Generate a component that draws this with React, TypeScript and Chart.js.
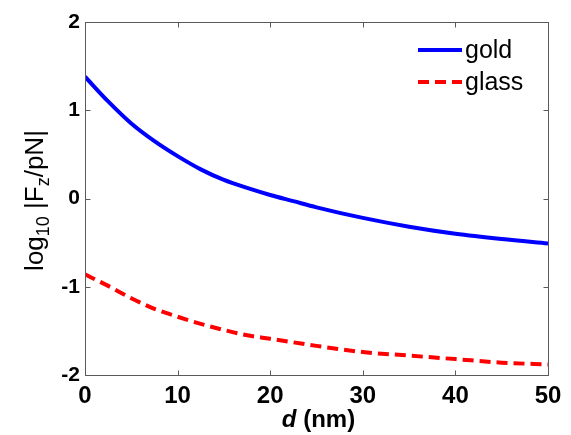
import React, { useEffect, useRef } from "react";
import { Chart, registerables } from "chart.js";

Chart.register(...registerables);

const distances = [0, 2.5, 5, 7.5, 10, 12.5, 15, 17.5, 20, 22.5, 25, 30, 35, 40, 45, 50];
const goldValues = [1.38, 1.10, 0.85, 0.65, 0.48, 0.33, 0.21, 0.12, 0.04, -0.03, -0.10, -0.22, -0.32, -0.40, -0.46, -0.51];
const glassValues = [-0.86, -0.99, -1.13, -1.25, -1.34, -1.42, -1.49, -1.55, -1.59, -1.63, -1.67, -1.74, -1.78, -1.82, -1.86, -1.88];
const seriesLabels = ["gold", "glass"];
const xTicks = [0, 10, 20, 30, 40, 50];
const yTicks = [-2, -1, 0, 1, 2];

const FONT = "'Liberation Sans', Arial, sans-serif";
const AXIS_COLOR = "#5a5a5a";

const decorPlugin = {
  id: "decor",
  afterDraw(chart: any) {
    const { ctx, chartArea } = chart;
    const xs = chart.scales.x;
    const ys = chart.scales.y;
    const l = Math.round(chartArea.left) + 0.5;
    const r = Math.round(chartArea.right) + 0.5;
    const t = Math.round(chartArea.top) + 0.5;
    const b = Math.round(chartArea.bottom) + 0.5;
    ctx.save();
    ctx.strokeStyle = AXIS_COLOR;
    ctx.lineWidth = 1;
    ctx.strokeRect(l, t, r - l, b - t);
    const tl = 5;
    ctx.beginPath();
    xTicks.forEach((v) => {
      const px = Math.round(xs.getPixelForValue(v)) + 0.5;
      ctx.moveTo(px, b);
      ctx.lineTo(px, b - tl);
      ctx.moveTo(px, t);
      ctx.lineTo(px, t + tl);
    });
    yTicks.forEach((v) => {
      const py = Math.round(ys.getPixelForValue(v)) + 0.5;
      ctx.moveTo(l, py);
      ctx.lineTo(l + tl, py);
      ctx.moveTo(r, py);
      ctx.lineTo(r - tl, py);
    });
    ctx.stroke();

    // legend
    const ds = chart.data.datasets;
    const legendY = [50, 82];
    ds.forEach((d: any, i: number) => {
      ctx.beginPath();
      ctx.strokeStyle = d.borderColor;
      ctx.lineWidth = 4;
      ctx.setLineDash(d.borderDash || []);
      ctx.moveTo(418, legendY[i]);
      ctx.lineTo(462, legendY[i]);
      ctx.stroke();
      ctx.setLineDash([]);
      ctx.fillStyle = "#000";
      ctx.font = `25px ${FONT}`;
      ctx.textBaseline = "middle";
      ctx.textAlign = "left";
      ctx.fillText(d.label, 465, legendY[i] + 1);
    });

    // x title
    ctx.fillStyle = "#000";
    ctx.textBaseline = "alphabetic";
    ctx.textAlign = "left";
    const fItal = `italic bold 24px ${FONT}`;
    const fBold = `bold 24px ${FONT}`;
    ctx.font = fItal;
    const w1 = ctx.measureText("d").width;
    ctx.font = fBold;
    const w2 = ctx.measureText(" (nm)").width;
    const cx = (chartArea.left + chartArea.right) / 2 + 2;
    const x0 = cx - (w1 + w2) / 2;
    ctx.font = fItal;
    ctx.fillText("d", x0, 427);
    ctx.font = fBold;
    ctx.fillText(" (nm)", x0 + w1, 427);

    // y title
    const main = `26px ${FONT}`;
    const sub = `18px ${FONT}`;
    const parts: [string, boolean][] = [
      ["log", false],
      ["10", true],
      [" |F", false],
      ["z", true],
      ["/pN|", false],
    ];
    let total = 0;
    const widths = parts.map(([s, isSub]) => {
      ctx.font = isSub ? sub : main;
      const w = ctx.measureText(s).width;
      total += w;
      return w;
    });
    ctx.translate(43, (chartArea.top + chartArea.bottom) / 2 + 2);
    ctx.rotate(-Math.PI / 2);
    let px = -total / 2;
    parts.forEach(([s, isSub], i) => {
      ctx.font = isSub ? sub : main;
      ctx.fillText(s, px, isSub ? 6 : 0);
      px += widths[i];
    });
    ctx.restore();
  },
};

export default function App() {
  const ref = useRef<HTMLCanvasElement | null>(null);
  useEffect(() => {
    document.body.style.margin = "0";
    const canvas = ref.current!;
    const chart = new Chart(canvas, {
      type: "line",
      data: {
        datasets: [
          {
            label: seriesLabels[0],
            data: distances.map((x, i) => ({ x, y: goldValues[i] })),
            borderColor: "#0000ff",
            borderWidth: 4,
            pointRadius: 0,
            cubicInterpolationMode: "monotone",
            fill: false,
          },
          {
            label: seriesLabels[1],
            data: distances.map((x, i) => ({ x, y: glassValues[i] })),
            borderColor: "#ff0000",
            borderWidth: 4,
            borderDash: [11, 6],
            pointRadius: 0,
            cubicInterpolationMode: "monotone",
            fill: false,
          },
        ],
      },
      options: {
        responsive: false,
        animation: false,
        devicePixelRatio: 1,
        layout: { padding: { left: 0, top: 22, right: 23, bottom: 0 } },
        plugins: {
          legend: { display: false },
          tooltip: { enabled: false },
        },
        scales: {
          x: {
            type: "linear",
            min: 0,
            max: 50,
            afterBuildTicks: (s: any) => {
              s.ticks = xTicks.map((v) => ({ value: v }));
            },
            afterFit: (s: any) => {
              s.height = 60;
            },
            grid: { display: false, drawTicks: false },
            border: { display: false },
            ticks: {
              padding: 7,
              color: "#000",
              maxRotation: 0,
              font: { family: FONT, size: 24, weight: "bold" },
            },
          },
          y: {
            min: -2,
            max: 2,
            afterBuildTicks: (s: any) => {
              s.ticks = yTicks.map((v) => ({ value: v }));
            },
            afterFit: (s: any) => {
              s.width = 85;
            },
            grid: { display: false, drawTicks: false },
            border: { display: false },
            ticks: {
              padding: 5,
              color: "#000",
              font: { family: FONT, size: 21, weight: "bold" },
            },
          },
        },
      } as any,
      plugins: [decorPlugin],
    });
    return () => chart.destroy();
  }, []);
  return (
    <div style={{ position: "absolute", left: 0, top: 0, width: 571, height: 435, background: "#fff" }}>
      <canvas ref={ref} width={571} height={435} />
    </div>
  );
}
